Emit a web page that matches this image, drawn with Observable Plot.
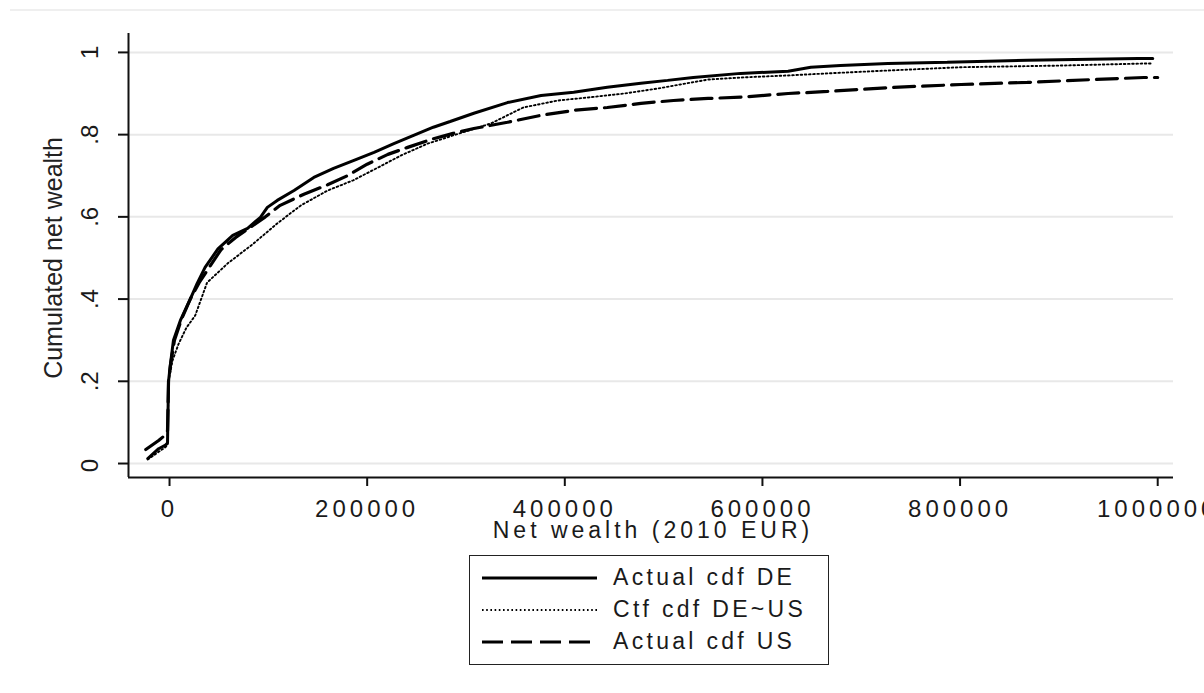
<!DOCTYPE html>
<html>
<head>
<meta charset="utf-8">
<script src="https://cdn.jsdelivr.net/npm/d3@7"></script>
<script src="https://cdn.jsdelivr.net/npm/@observablehq/plot@0.6"></script>
<style>
  body { margin: 0; background: #fff; font-family: "Liberation Sans", Arial, sans-serif; }
  #wrap { position: relative; width: 1204px; height: 693px; overflow: hidden; }
  #topline { position: absolute; left: 10px; right: 0; top: 9px; border-top: 2px solid #efefef; }
  #chart { position: absolute; left: 0; top: 0; }
  #legend { position: absolute; left: 469px; top: 555px; width: 360px; height: 110px;
            border: 1.5px solid #222; box-sizing: border-box; padding-top: 5.5px; }
  .row { display: flex; align-items: center; height: 32px; margin-left: 11px; }
  .row svg { display: block; }
  .row span { margin-left: 16px; font-size: 23px; letter-spacing: 3.3px; color: #1a1a1a; white-space: nowrap; }
</style>
</head>
<body>
<div id="wrap">
  <div id="topline"></div>
  <div id="chart"></div>
  <div id="legend"></div>
</div>
<script>
// ---- data ----
const seriesNames = ["Actual cdf DE", "Ctf cdf DE~US", "Actual cdf US"];

const wealthDE = [-20000, -9000, -2000, 0, 1000, 3000, 6000, 13000, 23000, 30000, 38000, 51000, 66000, 81000, 94000, 101000, 111000, 128000, 148000, 168000, 188000, 209000, 229000, 249000, 269000, 286000, 310000, 344000, 378000, 411000, 445000, 479000, 506000, 532000, 580000, 628000, 651000, 681000, 729000, 789000, 870000, 982000, 997000];
const cdfDE    = [0.012, 0.036, 0.045, 0.05, 0.2, 0.243, 0.30, 0.348, 0.40, 0.438, 0.477, 0.522, 0.555, 0.572, 0.599, 0.623, 0.64, 0.664, 0.696, 0.718, 0.737, 0.757, 0.778, 0.798, 0.818, 0.832, 0.852, 0.878, 0.895, 0.903, 0.915, 0.925, 0.932, 0.939, 0.949, 0.954, 0.964, 0.968, 0.973, 0.976, 0.981, 0.985, 0.985];

const wealthCtf = [-20000, -2000, 0, 1000, 5000, 11000, 19000, 28000, 40000, 61000, 87000, 111000, 135000, 162000, 188000, 213000, 236000, 263000, 289000, 327000, 360000, 395000, 428000, 462000, 496000, 519000, 547000, 580000, 628000, 668000, 729000, 803000, 904000, 988000, 997000];
const cdfCtf    = [0.01, 0.04, 0.045, 0.2, 0.25, 0.29, 0.33, 0.36, 0.44, 0.487, 0.535, 0.584, 0.628, 0.664, 0.689, 0.72, 0.749, 0.778, 0.798, 0.827, 0.866, 0.883, 0.891, 0.90, 0.912, 0.922, 0.934, 0.939, 0.944, 0.949, 0.956, 0.964, 0.968, 0.973, 0.973];

const wealthUS = [-22000, -9000, -2000, 0, 1000, 3000, 7000, 14000, 23000, 32000, 43000, 54000, 69000, 84000, 99000, 114000, 138000, 162000, 182000, 202000, 223000, 243000, 269000, 289000, 310000, 344000, 378000, 411000, 445000, 479000, 512000, 547000, 580000, 628000, 668000, 735000, 803000, 870000, 937000, 988000, 1002000];
const cdfUS    = [0.034, 0.056, 0.07, 0.08, 0.2, 0.24, 0.30, 0.35, 0.40, 0.44, 0.48, 0.52, 0.55, 0.575, 0.60, 0.628, 0.655, 0.678, 0.70, 0.728, 0.752, 0.769, 0.79, 0.803, 0.815, 0.83, 0.847, 0.859, 0.866, 0.876, 0.883, 0.888, 0.891, 0.90, 0.905, 0.915, 0.922, 0.927, 0.934, 0.939, 0.939];

const xTicks = [0, 200000, 400000, 600000, 800000, 1000000];
const yTicks = [0, 0.2, 0.4, 0.6, 0.8, 1];
const yTickLabels = ["0", ".2", ".4", ".6", ".8", "1"];
const xTitle = "Net wealth (2010 EUR)";
const yTitle = "Cumulated net wealth";

// ---- styles ----
const xDomain = [-39500, 1018000];
const yDomain = [-0.034, 1.046];
const seriesDash = [null, "1.6,2.6", "21,8"];
const seriesWidth = [3, 1.9, 3.2];
const font = '"Liberation Sans", Arial, sans-serif';

const toRows = (xs, ys) => xs.map((x, i) => ({x, y: ys[i]}));
const series = [toRows(wealthDE, cdfDE), toRows(wealthCtf, cdfCtf), toRows(wealthUS, cdfUS)];

const chart = Plot.plot({
  width: 1204,
  height: 545,
  marginLeft: 128,
  marginRight: 31,
  marginTop: 33,
  marginBottom: 68,
  style: {fontFamily: font, fontSize: "24px", color: "#1a1a1a", background: "transparent", overflow: "visible"},
  x: {domain: xDomain},
  y: {domain: yDomain},
  marks: [
    Plot.ruleY(yTicks, {stroke: "#e8e8e8", strokeWidth: 2}),
    ...series.map((data, i) => Plot.line(data, {
      x: "x", y: "y", stroke: "#000",
      strokeWidth: seriesWidth[i],
      strokeDasharray: seriesDash[i] ?? undefined,
      strokeLinejoin: "miter"
    })),
    Plot.ruleX([xDomain[0]], {stroke: "#111", strokeWidth: 2}),
    Plot.ruleY([yDomain[0]], {stroke: "#111", strokeWidth: 2}),
    Plot.axisX(xTicks, {tickSize: 9, tickPadding: 13, fontSize: 24, tickFormat: d => String(d),
      stroke: "#111", strokeWidth: 2, label: null, dx: 2}),
    Plot.axisY(yTicks, {tickSize: 10, tickFormat: () => "", stroke: "#111", strokeWidth: 2, label: null}),
    Plot.text(yTicks, {y: d => d, text: (d, i) => yTickLabels[i], frameAnchor: "left", dx: -38,
      rotate: -90, textAnchor: "middle", lineAnchor: "middle", fontSize: 24, fill: "#1a1a1a"}),
    Plot.text([yTitle], {text: d => d, y: 0.5, frameAnchor: "left", dx: -75, rotate: -90,
      textAnchor: "middle", lineAnchor: "middle", fontSize: 25, fill: "#222"}),
    Plot.text([xTitle], {text: d => d, frameAnchor: "bottom", dy: 53, dx: 2,
      textAnchor: "middle", lineAnchor: "middle", fontSize: 23, fill: "#1a1a1a"})
  ]
});

// horizontal stretch of the original glyphs, imitated with letter spacing
const xLabels = new Set(xTicks.map(String));
d3.select(chart).selectAll("text").each(function() {
  const t = this.textContent;
  if (xLabels.has(t)) this.style.letterSpacing = "4px";
  if (t === xTitle) this.style.letterSpacing = "4px";
});

document.getElementById("chart").appendChild(chart);

// ---- legend ----
const legend = d3.select("#legend");
seriesNames.forEach((name, i) => {
  const row = legend.append("div").attr("class", "row");
  const s = row.append("svg").attr("width", 116).attr("height", 32);
  s.append("line")
    .attr("x1", 1).attr("x2", 116).attr("y1", 16).attr("y2", 16)
    .attr("stroke", "#000")
    .attr("stroke-width", seriesWidth[i])
    .attr("stroke-dasharray", seriesDash[i]);
  row.append("span").text(name);
});
</script>
</body>
</html>
